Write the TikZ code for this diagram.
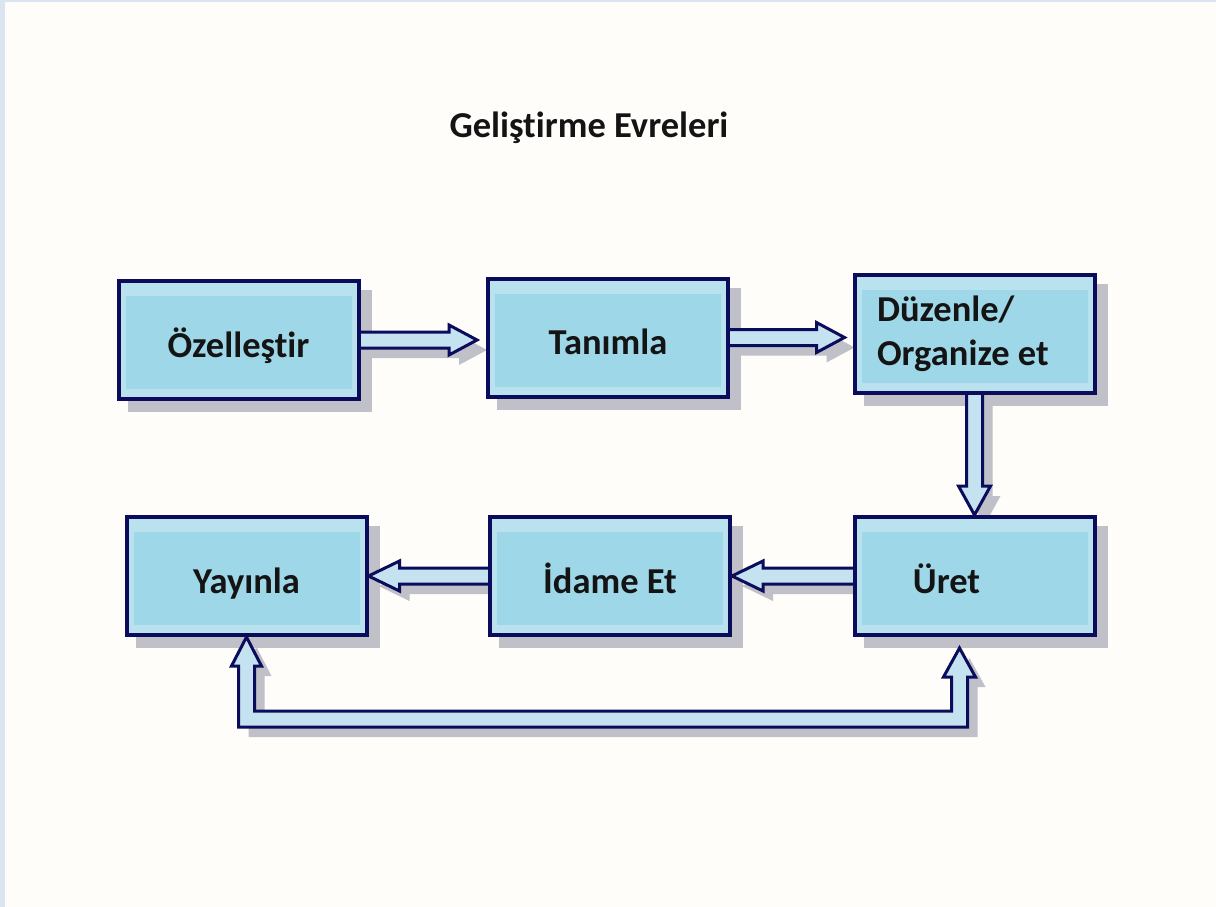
\documentclass[tikz,border=0pt]{standalone}
\usepackage{fontspec}
\setmainfont{Carlito}[Ligatures=NoCommon]
\usetikzlibrary{calc}

\definecolor{navy}{RGB}{12,12,92}
\definecolor{boxblue}{RGB}{186,225,238}
\definecolor{innerblue}{RGB}{158,215,232}
\definecolor{arrowblue}{RGB}{196,226,240}
\definecolor{shadowgray}{RGB}{192,192,200}
\definecolor{paper}{RGB}{254,253,250}
\definecolor{edgeblue}{RGB}{219,229,241}

\pgfdeclarelayer{back}
\pgfdeclarelayer{mid}
\pgfsetlayers{back,mid,main}

\begin{document}
\begin{tikzpicture}[x=1pt,y=-1pt,
	box/.style={draw=navy,line width=4pt,fill=boxblue,minimum width=240pt,minimum height=118pt,inner sep=0pt,
		font=\bfseries\fontsize{36.5}{44}\selectfont,text=black!92,
		path picture={\fill[innerblue] ([shift={(7pt,10pt)}]path picture bounding box.south west) rectangle ([shift={(-7pt,-15pt)}]path picture bounding box.north east);}},
	lbl/.style={text height=40pt,text depth=6pt},
	blockarrow/.style={draw=navy,line width=3pt,fill=arrowblue,line join=miter,
		preaction={fill=shadowgray,transform canvas={shift={(10pt,-10pt)}}}}]
	% page
	\useasboundingbox (0,0) rectangle (1216,907);
	\begin{pgfonlayer}{back}
		\fill[paper] (0,0) rectangle (1216,907);
		\fill[edgeblue] (0,0) rectangle (5,907);
		\fill[edgeblue] (0,0) rectangle (1216,2);
	\end{pgfonlayer}

	\node[font=\bfseries\fontsize{36.5}{44}\selectfont,text=black!92,anchor=base] (title) at (589,137) {Geliştirme Evreleri};

	% the six phases
	\node[box,lbl] (oz) at (238.5,340) {Özelleştir};
	\node[box,lbl] (tan) at (608,337.5) {Tanımla};
	\node[box,align=flush left,text width=195pt] (duz) at (974.5,334) {Düzenle/\\Organize et};
	\node[box,lbl] (yay) at (246.5,576) {Yayınla};
	\node[box,lbl] (ida) at (610,576) {İdame Et};
	\node[box] (ure) at (974.5,576) {};
	\node[lbl,font=\bfseries\fontsize{36.5}{44}\selectfont,text=black!92,inner sep=0pt] (uretxt) at ([xshift=-28pt]ure.center) {Üret};

	\begin{pgfonlayer}{back}
		\foreach \n in {oz,tan,duz,yay,ida,ure}
			\fill[shadowgray] ([shift={(11pt,-11pt)}]\n.south west) rectangle ([shift={(11pt,-11pt)}]\n.north east);
	\end{pgfonlayer}

	\begin{pgfonlayer}{mid}
		\draw[blockarrow] let \p1=(oz.east), \p2=(tan.west) in
			({\x1-2pt},{\y1+8pt}) -- ({\x2-37pt},{\y1+8pt}) -- ({\x2-37pt},{\y1+15pt}) -- ({\x2-9pt},\y1)
			-- ({\x2-37pt},{\y1-15pt}) -- ({\x2-37pt},{\y1-8pt}) -- ({\x1-2pt},{\y1-8pt});
		\draw[blockarrow] let \p1=(tan.east), \p2=(duz.west) in
			({\x1-2pt},{\y1+8pt}) -- ({\x2-36pt},{\y1+8pt}) -- ({\x2-36pt},{\y1+15pt}) -- ({\x2-8pt},\y1)
			-- ({\x2-36pt},{\y1-15pt}) -- ({\x2-36pt},{\y1-8pt}) -- ({\x1-2pt},{\y1-8pt});
		\draw[blockarrow] let \p1=(duz.south), \p2=(ure.north) in
			({\x1-8pt},{\y1+2pt}) -- ({\x1-8pt},{\y2+29pt}) -- ({\x1-16pt},{\y2+29pt}) -- (\x1,\y2)
			-- ({\x1+16pt},{\y2+29pt}) -- ({\x1+8pt},{\y2+29pt}) -- ({\x1+8pt},{\y1+2pt});
		\draw[blockarrow] let \p1=(ure.west), \p2=(ida.east) in
			({\x1+2pt},{\y1+8pt}) -- ({\x2+31pt},{\y1+8pt}) -- ({\x2+31pt},{\y1+15pt}) -- (\x2,\y1)
			-- ({\x2+31pt},{\y1-15pt}) -- ({\x2+31pt},{\y1-8pt}) -- ({\x1+2pt},{\y1-8pt});
		\draw[blockarrow] let \p1=(ida.west), \p2=(yay.east) in
			({\x1+2pt},{\y1+8pt}) -- ({\x2+31pt},{\y1+8pt}) -- ({\x2+31pt},{\y1+15pt}) -- (\x2,\y1)
			-- ({\x2+31pt},{\y1-15pt}) -- ({\x2+31pt},{\y1-8pt}) -- ({\x1+2pt},{\y1-8pt});
		% return loop under the bottom row
		\draw[blockarrow] let \p1=(yay.south), \p2=(ure.south) in
			(\x1,\y1) -- ({\x1+15pt},{\y1-29pt}) -- ({\x1+8pt},{\y1-29pt}) -- ({\x1+8pt},{\y1-74pt})
			-- ({\x2-23pt},{\y1-74pt}) -- ({\x2-23pt},{\y2-40pt}) -- ({\x2-31pt},{\y2-40pt}) -- ({\x2-15pt},{\y2-11pt})
			-- ({\x2+1pt},{\y2-40pt}) -- ({\x2-7pt},{\y2-40pt}) -- ({\x2-7pt},{\y1-90pt})
			-- ({\x1-8pt},{\y1-90pt}) -- ({\x1-8pt},{\y1-29pt}) -- ({\x1-15pt},{\y1-29pt}) -- cycle;
	\end{pgfonlayer}
\end{tikzpicture}
\end{document}
